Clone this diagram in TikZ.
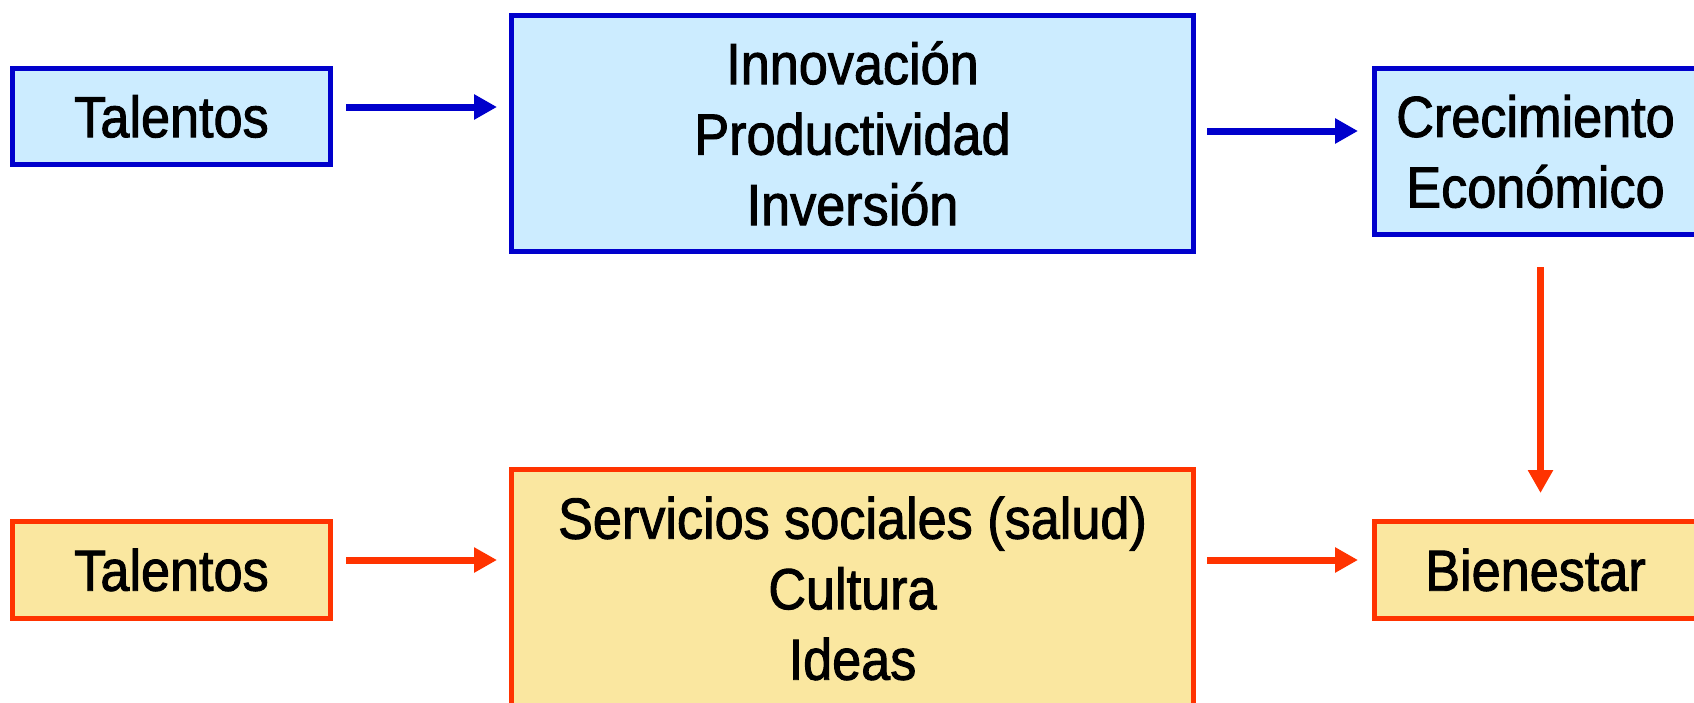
\documentclass[tikz,border=0pt]{standalone}
\usepackage{fontspec}
\setmainfont[FakeStretch=0.9,FakeBold=1.6]{Liberation Sans}
\usetikzlibrary{arrows.meta}
\definecolor{bstroke}{RGB}{0,0,204}
\definecolor{bfill}{RGB}{204,236,255}
\definecolor{ostroke}{RGB}{255,51,0}
\definecolor{ofill}{RGB}{250,231,160}
\begin{document}
\begin{tikzpicture}[x=1pt,y=-1pt,
  box/.style={draw, line width=5pt, inner sep=0pt, align=center, font=\fontsize{58}{70.5}\selectfont},
  bluebox/.style={box, draw=bstroke, fill=bfill},
  orangebox/.style={box, draw=ostroke, fill=ofill},
  arr/.style={line width=7pt, -{Triangle[length=23pt,width=24pt]}},
]
\useasboundingbox (0,0) rectangle (1694,702);
\clip (0,0) rectangle (1694,702);
\node[bluebox, minimum width=318pt, minimum height=96pt] (tal1) at (171.5,116.5) {Talentos};
\node[bluebox, minimum width=682pt, minimum height=236pt] (mid1) at (852.5,133.5) {Innovación\\Productividad\\Inversión};
\node[bluebox, minimum width=322pt, minimum height=166pt] (crec) at (1535.5,151.5) {Crecimiento\\Económico};
\node[orangebox, minimum width=318pt, minimum height=97pt] (tal2) at (171.5,570) {Talentos};
\node[orangebox, minimum width=682pt, minimum height=238pt] (mid2) at (852.5,588.5) {Servicios sociales (salud)\\Cultura\\Ideas};
\node[orangebox, minimum width=322pt, minimum height=97pt] (bien) at (1535.5,570) {Bienestar};
\draw[arr, bstroke, shorten <=13pt, shorten >=12pt] (tal1.east |- 0,107) -- (mid1.west |- 0,107);
\draw[arr, bstroke, shorten <=11pt, shorten >=14pt] (mid1.east |- 0,131) -- (crec.west |- 0,131);
\draw[arr, ostroke, shorten <=30pt, shorten >=26pt] (crec.south -| 1540.5,0) -- (bien.north -| 1540.5,0);
\draw[arr, ostroke, shorten <=13pt, shorten >=12pt] (tal2.east |- 0,560) -- (mid2.west |- 0,560);
\draw[arr, ostroke, shorten <=11pt, shorten >=14pt] (mid2.east |- 0,560) -- (bien.west |- 0,560);
\end{tikzpicture}
\end{document}
